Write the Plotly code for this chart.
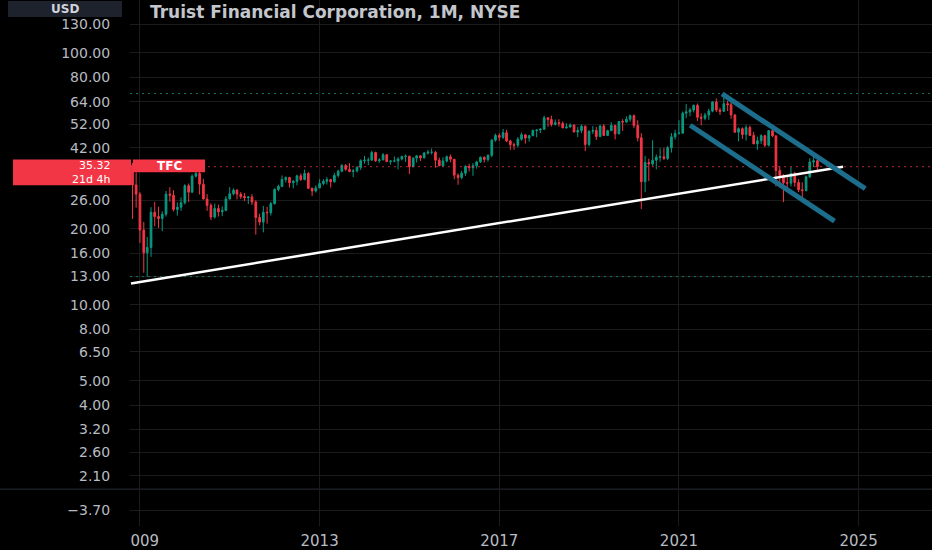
import plotly.graph_objects as go
import pandas as pd

# ---------------- data (monthly candles, Oct 2008 .. Feb 2024) ----------------
months = pd.date_range("2008-10-01", "2024-02-01", freq="MS")

opens = [
    36.4, 35.8, 29.9,                                                   # 2008 Q4
    27.5, 19.8, 16.1, 16.9, 23.3, 22.4, 22.0, 22.9, 27.5, 27.2, 23.9, 24.4,  # 2009
    25.4, 29.7, 28.0, 32.4, 33.2, 30.1, 26.3, 24.8, 22.3, 24.1, 23.4, 23.7,  # 2010
    26.3, 27.6, 28.5, 27.5, 26.9, 26.6, 26.8, 25.6, 22.2, 21.3, 23.3, 23.2,  # 2011
    25.2, 28.7, 29.5, 31.4, 32.0, 30.5, 30.9, 32.5, 31.4, 33.2, 29.0, 28.3,  # 2012
    29.1, 30.3, 30.9, 31.4, 30.8, 32.6, 33.9, 35.7, 34.5, 33.8, 34.0, 35.1,  # 2013
    37.3, 37.5, 37.5, 40.2, 37.3, 37.6, 39.4, 37.0, 37.2, 37.2, 37.9, 38.8,  # 2014
    38.9, 35.3, 38.2, 39.0, 38.3, 40.0, 40.3, 40.3, 37.5, 35.6, 37.2, 38.7,  # 2015
    37.8, 32.7, 32.0, 33.3, 35.4, 35.0, 35.6, 36.9, 38.5, 37.7, 39.2, 45.0,  # 2016
    47.0, 46.2, 48.2, 44.7, 43.2, 43.0, 45.4, 47.3, 45.9, 46.9, 49.2, 49.4,  # 2017
    49.7, 55.2, 54.4, 52.0, 52.8, 52.5, 50.4, 50.8, 51.7, 48.5, 49.2, 51.1,  # 2018
    43.3, 48.8, 49.2, 46.5, 51.2, 47.0, 49.1, 51.5, 47.7, 53.4, 53.1, 54.5,  # 2019
    56.3, 51.5, 46.0, 30.8, 36.7, 36.2, 37.5, 38.5, 38.7, 38.1, 42.0, 46.4,  # 2020
    47.9, 48.0, 57.6, 58.3, 59.3, 61.8, 55.5, 55.0, 56.6, 58.7, 63.8, 59.3,  # 2021
    58.6, 62.8, 62.2, 56.7, 48.4, 50.0, 47.4, 50.5, 47.0, 43.5, 44.8, 46.9,  # 2022
    43.0, 49.1, 46.8, 34.1, 32.6, 30.5, 30.4, 33.2, 30.6, 28.6, 28.4, 32.2,  # 2023
    36.9, 37.3,                                                         # 2024
]
highs = [
    38.9, 36.6, 33.5,
    28.0, 21.3, 18.6, 24.4, 25.6, 24.5, 23.5, 28.3, 29.3, 28.5, 25.5, 26.7,
    30.1, 30.3, 33.0, 35.7, 34.2, 31.6, 27.5, 25.3, 25.2, 25.0, 24.6, 27.0,
    29.3, 29.0, 28.8, 28.0, 27.8, 27.0, 27.5, 26.0, 23.0, 24.7, 24.5, 25.6,
    29.0, 30.0, 32.6, 32.3, 32.2, 31.3, 32.8, 33.2, 34.4, 33.7, 29.2, 29.8,
    31.5, 31.5, 32.2, 31.6, 33.4, 34.4, 36.2, 36.2, 36.5, 34.6, 35.5, 37.8,
    39.0, 38.4, 40.9, 40.5, 38.2, 40.0, 39.7, 37.5, 38.8, 38.5, 39.0, 39.5,
    38.9, 38.5, 39.3, 39.3, 40.4, 41.2, 41.7, 40.8, 38.4, 38.5, 39.1, 39.5,
    37.9, 33.2, 34.0, 35.8, 36.3, 36.5, 37.3, 38.8, 38.8, 39.5, 45.5, 47.8,
    47.9, 49.9, 49.5, 45.2, 44.0, 46.3, 48.2, 47.3, 47.3, 49.6, 49.6, 50.3,
    56.3, 55.6, 56.3, 54.4, 54.5, 53.4, 52.5, 52.5, 52.0, 50.8, 52.0, 51.5,
    49.3, 51.2, 50.8, 51.8, 52.2, 49.5, 53.0, 51.8, 53.5, 54.5, 56.0, 56.9,
    56.9, 54.0, 48.0, 39.0, 38.0, 45.0, 39.5, 41.8, 42.0, 42.7, 48.0, 49.5,
    54.0, 58.5, 62.7, 60.5, 62.4, 62.9, 57.5, 57.8, 60.0, 64.2, 65.9, 60.5,
    68.95, 64.5, 63.5, 57.0, 50.6, 50.6, 51.8, 51.4, 48.6, 46.5, 47.5, 47.3,
    49.4, 50.5, 47.2, 35.5, 33.0, 32.5, 35.2, 33.7, 31.5, 30.6, 32.6, 38.2,
    39.3, 37.6,
]
lows = [
    25.6, 21.9, 24.3,
    17.6, 13.4, 12.94, 15.5, 20.5, 20.2, 19.6, 22.4, 25.7, 23.5, 22.6, 23.6,
    25.0, 25.6, 27.8, 32.0, 27.4, 26.2, 23.6, 21.7, 22.0, 22.4, 22.5, 23.5,
    26.2, 27.2, 26.2, 26.3, 25.8, 25.1, 24.9, 19.0, 20.7, 19.4, 21.0, 22.6,
    25.0, 28.2, 29.3, 30.6, 29.2, 29.0, 29.8, 31.0, 31.2, 28.8, 27.0, 27.9,
    29.1, 29.8, 30.0, 29.2, 30.5, 32.0, 33.6, 34.0, 33.6, 32.1, 33.5, 34.3,
    36.3, 35.8, 37.4, 36.9, 36.6, 37.5, 37.0, 36.0, 36.8, 34.5, 37.4, 36.9,
    33.0, 35.2, 36.7, 37.2, 38.1, 39.5, 39.5, 35.0, 35.5, 35.4, 36.7, 36.8,
    31.5, 29.95, 31.5, 32.5, 33.8, 32.5, 34.7, 36.6, 36.7, 37.0, 38.5, 44.4,
    44.7, 45.5, 44.2, 41.2, 41.2, 42.2, 44.8, 43.6, 44.4, 46.7, 46.2, 48.0,
    49.6, 50.9, 51.0, 51.5, 51.0, 50.2, 50.0, 50.5, 48.4, 46.3, 48.0, 40.7,
    42.5, 47.6, 45.1, 46.4, 46.9, 46.8, 49.0, 45.3, 47.5, 49.0, 52.8, 53.3,
    50.2, 44.5, 24.0, 28.0, 31.0, 35.5, 34.5, 37.0, 37.5, 37.5, 40.2, 45.3,
    47.4, 47.8, 55.0, 56.0, 58.0, 53.7, 51.5, 54.0, 54.2, 58.1, 58.2, 56.7,
    58.2, 58.7, 54.7, 48.3, 44.5, 45.5, 44.9, 46.8, 43.5, 41.2, 43.5, 42.3,
    42.5, 46.3, 29.5, 29.5, 25.56, 28.5, 29.5, 29.4, 28.0, 26.6, 28.2, 31.8,
    35.2, 34.2,
]
closes = [
    35.8, 29.9, 27.5,
    19.8, 16.1, 16.9, 23.3, 22.4, 22.0, 22.9, 27.5, 27.2, 23.9, 24.4, 25.4,
    29.7, 28.0, 32.4, 33.2, 30.1, 26.3, 24.8, 22.3, 24.1, 23.4, 23.7, 26.3,
    27.6, 28.5, 27.5, 26.9, 26.6, 26.8, 25.6, 22.2, 21.3, 23.3, 23.2, 25.2,
    28.7, 29.5, 31.4, 32.0, 30.5, 30.9, 32.5, 31.4, 33.2, 29.0, 28.3, 29.1,
    30.3, 30.9, 31.4, 30.8, 32.6, 33.9, 35.7, 34.5, 33.8, 34.0, 35.1, 37.3,
    37.5, 37.5, 40.2, 37.3, 37.6, 39.4, 37.0, 37.2, 37.2, 37.9, 38.8, 38.9,
    35.3, 38.2, 39.0, 38.3, 40.0, 40.3, 40.3, 37.5, 35.6, 37.2, 38.7, 37.8,
    32.7, 32.0, 33.3, 35.4, 35.0, 35.6, 36.9, 38.5, 37.7, 39.2, 45.0, 47.0,
    46.2, 48.2, 44.7, 43.2, 43.0, 45.4, 47.3, 45.9, 46.9, 49.2, 49.4, 49.7,
    55.2, 54.4, 52.0, 52.8, 52.5, 50.4, 50.8, 51.7, 48.5, 49.2, 51.1, 43.3,
    48.8, 49.2, 46.5, 51.2, 47.0, 49.1, 51.5, 47.7, 53.4, 53.1, 54.5, 56.3,
    51.5, 46.0, 30.8, 36.7, 36.2, 37.5, 38.5, 38.7, 38.1, 42.0, 46.4, 47.9,
    48.0, 57.6, 58.3, 59.3, 61.8, 55.5, 55.0, 56.6, 58.7, 63.8, 59.3, 58.6,
    62.8, 62.2, 56.7, 48.4, 50.0, 47.4, 50.5, 47.0, 43.5, 44.8, 46.9, 43.0,
    49.1, 46.8, 34.1, 32.6, 30.5, 30.4, 33.2, 30.6, 28.6, 28.4, 32.2, 36.9,
    37.3, 35.32,
]

last_price = 35.32
all_time_high = 68.95
cycle_low = 12.94

# drawn trend lines (date, price)
support_x = ["2008-10-20", "2024-08-28"]
support_y = [12.16, 35.3]
chan_upper_x = ["2021-12-18", "2025-02-24"]
chan_upper_y = [68.7, 28.9]
chan_lower_x = ["2021-04-02", "2024-06-19"]
chan_lower_y = [51.6, 21.5]

y_tickvals = [130, 100, 80, 64, 52, 42, 26, 20, 16, 13, 10, 8, 6.5, 5, 4, 3.2, 2.6, 2.1, 1.53]
y_ticktext = ["130.00", "100.00", "80.00", "64.00", "52.00", "42.00", "26.00", "20.00",
              "16.00", "13.00", "10.00", "8.00", "6.50", "5.00", "4.00", "3.20", "2.60",
              "2.10", "\u22123.70"]
x_tickvals = ["2009-01-01", "2013-01-01", "2017-01-01", "2021-01-01", "2025-01-01"]
x_ticktext = ["2009", "2013", "2017", "2021", "2025"]

pane_separator = 1.857

# ---------------- style ----------------
GREEN = "#089981"
RED = "#f23645"
BLUE = "#1c6e8c"
TEAL_DOT = "rgba(23,138,122,0.8)"
PINK_DOT = "rgba(242,54,69,0.75)"
GRID = "#1b1b1b"
TXT = "#b8bbc2"
FONT = "DejaVu Sans"

X_RANGE = ["2008-10-12", "2026-08-21"]
ML, MT, MB = 130, 0, 22
W, H = 932, 550
PW, PH = W - ML, H - MT - MB


def px(x):
    return (x - ML) / PW


def py(y):
    return (MT + PH - y) / PH


fig = go.Figure()

# horizontal reference lines
for lvl, col in [(all_time_high, TEAL_DOT), (cycle_low, TEAL_DOT), (last_price, PINK_DOT)]:
    fig.add_trace(go.Scatter(x=X_RANGE, y=[lvl, lvl], mode="lines",
                             line=dict(color=col, width=1, dash="2px,4px"),
                             hoverinfo="skip", showlegend=False))

fig.add_trace(go.Candlestick(
    x=months, open=opens, high=highs, low=lows, close=closes,
    increasing=dict(line=dict(color=GREEN, width=1), fillcolor=GREEN),
    decreasing=dict(line=dict(color=RED, width=1), fillcolor=RED),
    whiskerwidth=0, showlegend=False, hoverinfo="skip"))

fig.add_trace(go.Scatter(x=support_x, y=support_y, mode="lines",
                         line=dict(color="#ffffff", width=2.5),
                         hoverinfo="skip", showlegend=False))
for xs, ys in [(chan_upper_x, chan_upper_y), (chan_lower_x, chan_lower_y)]:
    fig.add_trace(go.Scatter(x=xs, y=ys, mode="lines",
                             line=dict(color=BLUE, width=5),
                             hoverinfo="skip", showlegend=False))

shapes = [
    # pane separator
    dict(type="line", xref="paper", yref="y", x0=-ML / PW, x1=1,
         y0=pane_separator, y1=pane_separator, line=dict(color="#2a2e39", width=1), layer="below"),
    # clip area for the first year label
    dict(type="rect", xref="paper", yref="paper", x0=-ML / PW, x1=0, y0=-MB / PH, y1=0,
         fillcolor="#000000", line=dict(width=0), layer="above"),
    # price label
    dict(type="rect", xref="paper", yref="paper", x0=px(13), x1=px(131), y0=py(186), y1=py(160),
         fillcolor=RED, line=dict(width=0), layer="above"),
    # symbol label
    dict(type="rect", xref="paper", yref="paper", x0=px(133), x1=px(205), y0=py(173), y1=py(160),
         fillcolor=RED, line=dict(width=0), layer="above"),
    # currency box
    dict(type="rect", xref="paper", yref="paper", x0=px(8), x1=px(122), y0=py(17), y1=py(1),
         fillcolor="#1e222d", line=dict(width=0), layer="above"),
]

annotations = [
    dict(text="35.32<br>21d 4h", x=px(112), y=py(173), xanchor="right", yanchor="middle",
         align="right", font=dict(family=FONT, size=11, color="#ffffff")),
    dict(text="<b>TFC</b>", x=px(169), y=py(166.5), xanchor="center", yanchor="middle",
         font=dict(family=FONT, size=12, color="#ffffff")),
    dict(text="<b>USD</b>", x=px(65), y=py(9), xanchor="center", yanchor="middle",
         font=dict(family=FONT, size=12, color="#d1d4dc")),
    dict(text="<b>Truist Financial Corporation, 1M, NYSE</b>", x=px(148), y=py(12),
         xanchor="left", yanchor="middle",
         font=dict(family=FONT, size=17, color="#c3c6cc")),
]
for a in annotations:
    a.update(xref="paper", yref="paper", showarrow=False)

fig.update_layout(
    width=W, height=H,
    margin=dict(l=ML, r=0, t=MT, b=MB, pad=0),
    paper_bgcolor="#000000", plot_bgcolor="#000000",
    showlegend=False, hovermode=False,
    shapes=shapes, annotations=annotations,
    xaxis=dict(type="date", range=X_RANGE, rangeslider=dict(visible=False),
               tickvals=x_tickvals, ticktext=x_ticktext,
               showgrid=True, gridcolor=GRID, gridwidth=1,
               showline=False, zeroline=False, ticks="",
               tickfont=dict(family=FONT, size=15, color=TXT),
               ticklabelstandoff=4),
    yaxis=dict(type="log", range=[0.1225, 2.2095],
               tickvals=y_tickvals, ticktext=y_ticktext,
               showgrid=True, gridcolor=GRID, gridwidth=1,
               showline=False, zeroline=False,
               ticks="outside", ticklen=16, tickcolor="rgba(0,0,0,0)",
               tickfont=dict(family=FONT, size=14, color=TXT)),
)

fig.write_html("out.html", config={"displayModeBar": False},
               post_script="document.body.style.margin='0px';")
